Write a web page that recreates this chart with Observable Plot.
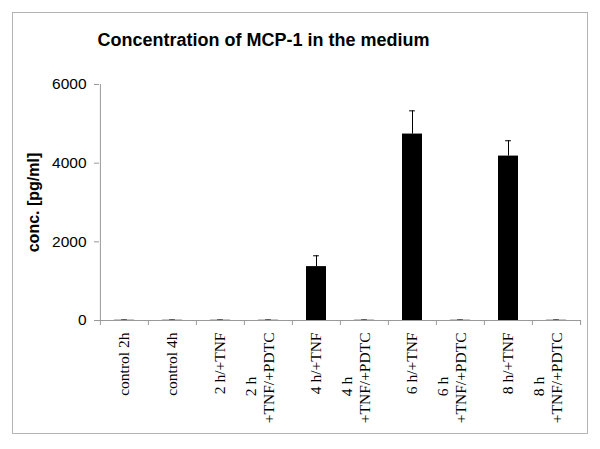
<!DOCTYPE html>
<html>
<head>
<meta charset="utf-8">
<script src="https://cdn.jsdelivr.net/npm/d3@7"></script>
<script src="https://cdn.jsdelivr.net/npm/@observablehq/plot@0.6"></script>
<style>
  html, body { margin: 0; padding: 0; background: #fff; }
  #wrap { position: relative; width: 600px; height: 449px; overflow: hidden; }
  #border { position: absolute; left: 12px; top: 12px; width: 574px; height: 420px; border: 1px solid #b4b4b4; }
  #chart { position: absolute; left: 0; top: 0; }
</style>
</head>
<body>
<div id="wrap"><div id="border"></div><div id="chart"></div></div>
<script>
const title = "Concentration of MCP-1 in the medium";
const yLabel = "conc. [pg/ml]";
const categories = ["control 2h", "control 4h", "2 h/+TNF", "2 h\n+TNF/+PDTC", "4 h/+TNF", "4 h\n+TNF/+PDTC", "6 h/+TNF", "6 h\n+TNF/+PDTC", "8 h/+TNF", "8 h\n+TNF/+PDTC"];
const values = [6, 6, 6, 6, 1370, 6, 4740, 6, 4180, 6];
const errors = [6, 6, 6, 6, 275, 6, 590, 6, 390, 6];
const yTicks = [0, 2000, 4000, 6000];

const data = categories.map((c, i) => ({cat: c, value: values[i], err: errors[i]}));
const single = categories.filter(c => !c.includes("\n"));
const multi = categories.filter(c => c.includes("\n"));

const W = 600, H = 449, ML = 99, MR = 19, MT = 84, MB = 129;
const half = (W - ML - MR) / categories.length / 2;
const serif = "'Liberation Serif', 'Times New Roman', serif";
const sans = "'Liberation Sans', Arial, sans-serif";
const axisGray = "#999";

const chart = Plot.plot({
  width: W, height: H,
  marginLeft: ML, marginRight: MR, marginTop: MT, marginBottom: MB,
  style: {fontFamily: sans, background: "transparent", overflow: "visible"},
  x: {domain: categories, padding: 0, axis: null},
  y: {domain: [0, 6000], axis: null},
  marks: [
    Plot.axisY({ticks: yTicks, tickSize: 5, tickPadding: 8, stroke: axisGray, fill: "black", fontSize: 15.5, label: null, tickFormat: d => String(d)}),
    Plot.ruleX([categories[0]], {y1: 0, y2: 6000, dx: -half, stroke: axisGray}),
    Plot.axisX({tickSize: 5, tickFormat: () => "", dx: -half, stroke: axisGray, label: null}),
    Plot.axisX({ticks: [categories[categories.length - 1]], tickSize: 5, tickFormat: () => "", dx: half, stroke: axisGray, label: null}),
    Plot.barY(data, {x: "cat", y: "value", fill: "black", insetLeft: 14, insetRight: 14}),
    Plot.ruleX(data, {x: "cat", y1: "value", y2: d => d.value + d.err, stroke: "black", strokeWidth: 1}),
    Plot.tickY(data, {x: "cat", y: d => d.value + d.err, stroke: "black", insetLeft: half - 3, insetRight: half - 3}),
    Plot.ruleY([0], {stroke: axisGray}),
    Plot.text(single, {x: d => d, y: 0, text: d => d, rotate: -90, textAnchor: "end", lineAnchor: "middle", dy: 12, fontFamily: serif, fontSize: 15.5, fill: "black"}),
    Plot.text(multi, {x: d => d, y: 0, text: d => d.split("\n")[1], rotate: -90, textAnchor: "end", lineAnchor: "middle", dy: 12, dx: 1, fontFamily: serif, fontSize: 15.5, fill: "black"}),
    Plot.text(multi, {x: d => d, y: 0, text: d => d.split("\n")[0], rotate: -90, textAnchor: "middle", lineAnchor: "middle", dy: 66, dx: -17, fontFamily: serif, fontSize: 15.5, fill: "black"}),
    Plot.text([yLabel], {frameAnchor: "left", text: d => d, rotate: -90, dx: -66, textAnchor: "middle", lineAnchor: "middle", fontWeight: "bold", fontSize: 16, fill: "black"}),
    Plot.text([title], {frameAnchor: "top-left", text: d => d, dx: 164, dy: -39, textAnchor: "middle", lineAnchor: "bottom", fontWeight: "bold", fontSize: 18, fill: "black"})
  ]
});
document.getElementById("chart").appendChild(chart);
</script>
</body>
</html>
